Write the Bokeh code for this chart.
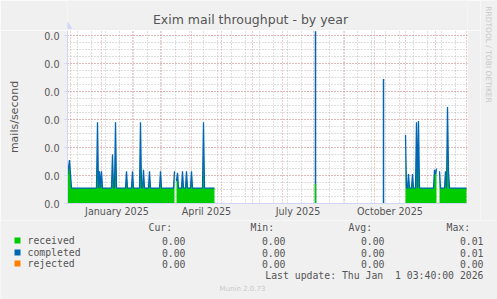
import numpy as np
import pandas as pd
from bokeh.plotting import figure
from bokeh.layouts import column, row
from bokeh.models import (Range1d, FixedTicker, SingleIntervalTicker, NumeralTickFormatter,
                          DatetimeTickFormatter)
from bokeh.core.properties import value
from bokeh.embed import file_html
from bokeh.resources import INLINE

# ---------------- data ----------------
recv_dates = ["2024-11-28", "2024-11-30", "2024-12-02", "2024-12-27", "2024-12-28", "2024-12-29",
              "2024-12-30", "2024-12-31", "2025-01-01", "2025-01-02", "2025-01-11", "2025-01-12",
              "2025-01-13", "2025-01-14", "2025-01-15", "2025-01-16", "2025-01-25", "2025-01-26",
              "2025-01-27", "2025-01-31", "2025-02-01", "2025-02-02", "2025-02-08", "2025-02-09",
              "2025-02-10", "2025-02-11", "2025-02-12", "2025-02-13", "2025-02-17", "2025-02-18",
              "2025-02-19", "2025-02-28", "2025-03-01", "2025-03-02", "2025-03-14", "2025-03-15",
              "2025-03-16",
              "2025-03-17", "2025-03-18", "2025-03-19", "2025-03-22", "2025-03-23", "2025-03-24",
              "2025-03-26", "2025-03-27", "2025-03-28", "2025-03-31", "2025-04-01", "2025-04-02",
              "2025-04-12", "2025-04-13", "2025-04-14", "2025-04-24",
              "2025-05-01",
              "2025-08-03",
              "2025-08-04",
              "2025-11-01", "2025-11-02", "2025-11-03", "2025-11-04", "2025-11-05", "2025-11-07",
              "2025-11-08", "2025-11-09", "2025-11-11", "2025-11-12", "2025-11-13", "2025-11-14",
              "2025-11-15", "2025-11-29", "2025-11-30", "2025-12-01", "2025-12-02",
              "2025-12-03",
              "2025-12-05", "2025-12-06", "2025-12-10", "2025-12-11", "2025-12-12", "2025-12-13",
              "2025-12-14", "2025-12-15", "2026-01-01"]
recv_vals = [0.0020, 0.0031, 0.0011, 0.0011, 0.0058, 0.0011,
             0.0023, 0.0011, 0.0023, 0.0011, 0.0011, 0.0035,
             0.0011, 0.0011, 0.0058, 0.0011, 0.0011, 0.0023,
             0.0011, 0.0011, 0.0023, 0.0011, 0.0011, 0.0058,
             0.0011, 0.0011, 0.0024, 0.0011, 0.0011, 0.0023,
             0.0011, 0.0011, 0.0023, 0.0011, 0.0011, 0.0023,
             None,
             0.0016, 0.0022, 0.0011, 0.0011, 0.0023, 0.0011,
             0.0011, 0.0023, 0.0011, 0.0011, 0.0023, 0.0011,
             0.0011, 0.0058, 0.0011, 0.0011,
             None,
             0.0014,
             None,
             0.0049, 0.0011, 0.0011, 0.0021, 0.0011, 0.0011,
             0.0021, 0.0011, 0.0011, 0.0058, 0.0011, 0.0059,
             0.0011, 0.0011, 0.0024, 0.0021, 0.0025,
             None,
             0.0023, 0.0011, 0.0011, 0.0023, 0.0011, 0.0069,
             0.0023, 0.0011, 0.0011]

comp_dates = recv_dates[:56] + ["2025-08-05", "2025-10-10", "2025-10-11"] + recv_dates[56:]
comp_vals = (recv_vals[:54] + [0.0123] + [None] + [None, 0.0089, None] + recv_vals[56:])

rej_dates = ["2024-11-28", "2025-03-15", "2025-03-16", "2025-03-17", "2025-04-24", "2025-05-01",
             "2025-11-01", "2025-12-02", "2025-12-03", "2025-12-05", "2026-01-01"]
rej_vals = [0.0, 0.0, None, 0.0, 0.0, None, 0.0, 0.0, None, 0.0, 0.0]

x_label_months = ["2025-01", "2025-04", "2025-07", "2025-10"]
y_tick_step = 0.002

legend_names = ["received", "completed", "rejected"]
legend_colors = ["#00CC00", "#0066B3", "#FF8000"]
stat_headers = ["Cur:", "Min:", "Avg:", "Max:"]
stat_cur = ["0.00", "0.00", "0.00"]
stat_min = ["0.00", "0.00", "0.00"]
stat_avg = ["0.00", "0.00", "0.00"]
stat_max = ["0.01", "0.01", "0.00"]

# ---------------- helpers ----------------
def segments(dates, vals):
    segs, cur = [], []
    for d, v in zip(dates, vals):
        if v is None:
            if cur:
                segs.append(cur)
            cur = []
        else:
            cur.append((pd.Timestamp(d), v))
    if cur:
        segs.append(cur)
    return segs

BG = "#F0F0F0"
AX = "#CFD6F8"
FONT_C = "#555555"
SANS = "DejaVu Sans"
MONO = "DejaVu Sans Mono"
SPLIT = 220  # page y where the chart block ends and the legend block starts
FL, FR, FT, FB = 67, 467, 30, 203


def text_fig(w, h, x0, y0, left=0, right=0):
    """A bare figure; its frame spans page x in [x0+left, x0+w-right], coordinates = page pixels."""
    f = figure(width=w, height=h, output_backend="svg", toolbar_location=None,
               x_range=Range1d(x0 + left, x0 + w - right), y_range=Range1d(y0 + h, y0),
               x_axis_location=None, y_axis_location=None,
               min_border_left=left, min_border_right=right, min_border_top=0, min_border_bottom=0)
    f.grid.visible = False
    f.background_fill_color = BG
    f.border_fill_color = BG
    f.outline_line_color = None
    return f


def put(f, txt, x, y, size, color=FONT_C, align="left", font=SANS, angle=0.0):
    f.text(x=[x], y=[y], text=[txt], text_font=value(font), text_font_size=f"{size}px",
           text_color=color, text_align=align, text_baseline="middle", angle=angle)

# ---------------- title strip (frame aligned with the chart frame) ----------------
title_f = text_fig(480, FT, 0, 0, left=FL, right=480 - FR)
put(title_f, "Exim mail throughput - by year", 250, 19, 12.5, align="center")
title_f.triangle(x=[FL + 0.5], y=[26], size=7, fill_color=AX, line_color=AX)

# ---------------- chart ----------------
p = figure(width=480, height=SPLIT - FT, output_backend="svg", toolbar_location=None,
           x_axis_type="datetime",
           x_range=Range1d(pd.Timestamp("2024-11-28"), pd.Timestamp("2026-01-02")),
           y_range=Range1d(0, 0.01236),
           min_border_left=FL, min_border_right=480 - FR, min_border_top=0,
           min_border_bottom=SPLIT - FB)
p.background_fill_color = "white"
p.border_fill_color = BG
p.outline_line_color = None

month_starts = pd.date_range("2024-12-01", "2026-01-01", freq="MS")
minor_lines = pd.date_range("2024-12-08", "2026-01-01", freq="14D")
ms = lambda t: t.value / 1e6
p.xgrid.ticker = FixedTicker(ticks=[ms(t) for t in month_starts],
                             minor_ticks=[ms(t) for t in minor_lines])
for g in (p.xgrid, p.ygrid):
    g.grid_line_color = "#E08080"
    g.grid_line_alpha = 0.8
    g.grid_line_dash = "1 2"
    g.minor_grid_line_color = "#B0B0B0"
    g.minor_grid_line_alpha = 0.8
    g.minor_grid_line_dash = "1 2"

yt = SingleIntervalTicker(interval=y_tick_step, num_minor_ticks=4)
p.yaxis.ticker = yt
p.ygrid.ticker = yt

lab_ticks = []
for m in x_label_months:
    s = pd.Timestamp(m + "-01")
    e = s + pd.offsets.MonthBegin(1)
    lab_ticks.append(ms(s + (e - s) / 2))
p.xaxis.ticker = FixedTicker(ticks=lab_ticks)
fmt = "%B %Y"
p.xaxis.formatter = DatetimeTickFormatter(days=fmt, months=fmt, years=fmt, hours=fmt)
p.xaxis.major_tick_line_color = None
p.xaxis.minor_tick_line_color = None
p.xaxis.major_tick_out = 0
p.xaxis.major_tick_in = 0
p.xaxis.minor_tick_out = 0
p.xaxis.major_label_standoff = 2
p.xaxis.axis_line_color = AX
p.xaxis.major_label_text_font = SANS
p.xaxis.major_label_text_font_size = "9.6px"
p.xaxis.major_label_text_color = FONT_C

p.yaxis.formatter = NumeralTickFormatter(format="0.0")
p.yaxis.axis_line_color = AX
p.yaxis.major_tick_line_color = AX
p.yaxis.major_tick_out = 3
p.yaxis.major_tick_in = 0
p.yaxis.minor_tick_line_color = None
p.yaxis.major_label_standoff = 4
p.yaxis.major_label_text_font = SANS
p.yaxis.major_label_text_font_size = "9.6px"
p.yaxis.major_label_text_color = FONT_C
p.yaxis.axis_label = "mails/second"
p.yaxis.axis_label_text_font = SANS
p.yaxis.axis_label_text_font_size = "11px"
p.yaxis.axis_label_text_font_style = "normal"
p.yaxis.axis_label_text_color = FONT_C
p.yaxis.axis_label_standoff = 20

green, blue, orange = legend_colors
recv_segs = segments(recv_dates, recv_vals)
comp_segs = segments(comp_dates, comp_vals)
rej_segs = segments(rej_dates, rej_vals)

for s in recv_segs:
    if len(s) > 1:
        p.varea(x=[a for a, _ in s], y1=[0] * len(s), y2=[b for _, b in s], fill_color=green)
for s in comp_segs:
    if len(s) == 1:
        p.segment(x0=[s[0][0]], y0=[0], x1=[s[0][0]], y1=[s[0][1]], line_color=blue, line_width=1.5)
for s in recv_segs:
    if len(s) == 1:
        p.segment(x0=[s[0][0]], y0=[0], x1=[s[0][0]], y1=[s[0][1]], line_color=green, line_width=1.5)
for s in rej_segs:
    if len(s) > 1:
        r = p.line(x=[a for a, _ in s], y=[b for _, b in s], line_color=orange, line_width=1)
        r.level = "underlay"
for s in comp_segs:
    if len(s) > 1:
        p.line(x=[a for a, _ in s], y=[b for _, b in s], line_color=blue, line_width=1.3)

# ---------------- right vertical credit strip ----------------
side_f = text_fig(17, SPLIT, 480, 0)
put(side_f, "RRDTOOL / TOBI OETIKER", 488, 54, 7.5, color="#C8C8C8", align="center", angle=-np.pi / 2)

# ---------------- legend / stats ----------------
leg_f = text_fig(497, 299 - SPLIT, 0, SPLIT)
hx = [148, 250, 348, 446]
vx = [185, 285, 384, 483]
for h, x in zip(stat_headers, hx):
    put(leg_f, h, x, 227, 9.8, font=MONO)
rows_y = [240, 252, 263]
for i, (name, col) in enumerate(zip(legend_names, legend_colors)):
    y = rows_y[i]
    leg_f.rect(x=[17], y=[y], width=6, height=6, fill_color=col, line_color=None)
    put(leg_f, name, 27, y, 9.8, font=MONO)
    for vals, x in zip([stat_cur, stat_min, stat_avg, stat_max], vx):
        put(leg_f, vals[i], x, y, 9.8, font=MONO, align="right")
put(leg_f, "Last update: Thu Jan\u00a0 1 03:40:00 2026", 483, 275, 9.8, font=MONO, align="right")
put(leg_f, "Munin 2.0.73", 242, 288, 7, color="#C8C8C8", align="center")

layout = column(row(column(title_f, p), side_f), leg_f)
open("out.html", "w").write(file_html(layout, INLINE))
